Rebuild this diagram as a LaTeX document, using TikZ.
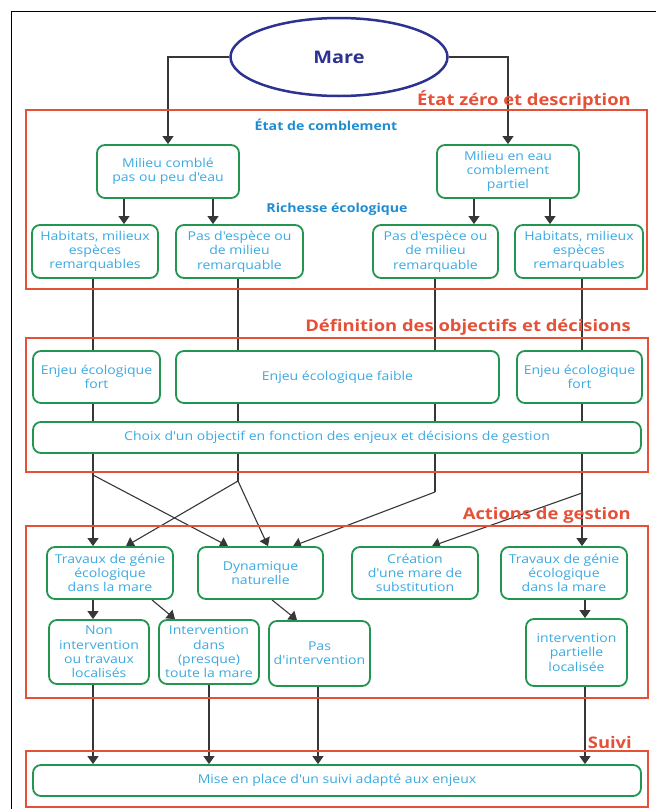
\documentclass[tikz,border=0pt]{standalone}
\usepackage{fontspec}
\setmainfont{Open Sans}[FakeStretch=1.15,Ligatures=TeXOff]
\usetikzlibrary{arrows.meta,shapes.geometric,backgrounds}
\definecolor{gr}{RGB}{34,150,80}
\definecolor{tx}{RGB}{60,170,225}
\definecolor{hd}{RGB}{30,140,210}
\definecolor{rd}{RGB}{230,80,55}
\definecolor{mb}{RGB}{45,50,145}
\definecolor{lnc}{RGB}{55,55,55}
\begin{document}
\begin{tikzpicture}[x=1pt,y=-1pt,
 gbox/.style={draw=gr, line width=1.8pt, rounded corners=8pt, fill=white, inner sep=0pt, align=center, text=tx, font=\fontsize{12.2}{14.3}\selectfont},
 rbox/.style={draw=rd, line width=1.3pt},
 rlab/.style={text=rd, font=\fontsize{16}{19}\selectfont\bfseries, anchor=east, inner sep=0pt},
 hlab/.style={text=hd, font=\fontsize{12.3}{14}\selectfont\bfseries, inner sep=0pt},
 wire/.style={draw=lnc, line width=1.1pt},
 arr/.style={wire, -{Triangle[length=8pt,width=11pt]}}]
\useasboundingbox (0,0) rectangle (656,809);
% outer frame
\draw[black, line width=1pt] (11,809) -- (11,11) -- (656,11);
% red section frames
\draw[rbox] (26,110) rectangle (647,289);
\draw[rbox] (26,338) rectangle (648,472);
\draw[rbox] (26,526) rectangle (648,698);
\draw[rbox] (26,751) rectangle (648,807);
\node[rlab] (l1) at (631,100) {État zéro et description};
\node[rlab] (l2) at (631,327) {Définition des objectifs et décisions};
\node[rlab] (l3) at (631,515) {Actions de gestion};
\node[rlab] (l4) at (632,742) {Suivi};
\node[hlab] (h1) at (326,125) {État de comblement};
\node[hlab] (h2) at (337,209) {Richesse écologique};
% ellipse
\node[ellipse, draw=mb, line width=2.5pt, minimum width=217pt, minimum height=78pt, inner sep=0pt, text=mb, font=\fontsize{17.3}{20}\selectfont\bfseries] (mare) at (339,57) {Mare};
% boxes
\node[gbox, minimum width=142pt, minimum height=53pt] (comble) at (168,171.5) {Milieu comblé\\pas ou peu d'eau};
\node[gbox, minimum width=142pt, minimum height=53pt] (eau) at (508,171.5) {Milieu en eau\\comblement\\partiel};
\node[gbox, minimum width=126pt, minimum height=53pt] (hab1) at (95,251.5) {Habitats, milieux\\espèces\\remarquables};
\node[gbox, minimum width=127pt, minimum height=53pt] (pas1) at (239.5,251.5) {Pas d'espèce ou\\de milieu\\remarquable};
\node[gbox, minimum width=125pt, minimum height=53pt] (pas2) at (435.5,251.5) {Pas d'espèce ou\\de milieu\\remarquable};
\node[gbox, minimum width=128pt, minimum height=53pt] (hab2) at (579,251.5) {Habitats, milieux\\espèces\\remarquables};
\node[gbox, minimum width=127pt, minimum height=52pt] (enj1) at (96.5,377) {Enjeu écologique\\fort};
\node[gbox, minimum width=323pt, minimum height=52pt] (enjf) at (337.5,377) {Enjeu écologique faible};
\node[gbox, minimum width=125pt, minimum height=52pt] (enj2) at (579.5,377) {Enjeu écologique\\fort};
\node[gbox, minimum width=608pt, minimum height=31pt] (choix) at (337,437.5) {Choix d'un objectif en fonction des enjeux et décisions de gestion};
\node[gbox, minimum width=126pt, minimum height=52pt] (trav1) at (110,573) {Travaux de génie\\écologique\\dans la mare};
\node[gbox, minimum width=125pt, minimum height=52pt] (dyn) at (260.5,573) {Dynamique\\naturelle};
\node[gbox, minimum width=126pt, minimum height=52pt] (crea) at (415,573) {Création\\d'une mare de\\substitution};
\node[gbox, minimum width=126pt, minimum height=52pt] (trav2) at (564,573) {Travaux de génie\\écologique\\dans la mare};
\node[gbox, minimum width=100pt, minimum height=64pt] (non) at (99,652) {Non\\intervention\\ou travaux\\localisés};
\node[gbox, minimum width=100pt, minimum height=64pt] (interv) at (209,652) {Intervention\\dans\\(presque)\\toute la mare};
\node[gbox, minimum width=101pt, minimum height=65pt] (pasi) at (319.5,653.5) {Pas\\d'intervention};
\node[gbox, minimum width=101pt, minimum height=67pt] (part) at (576.5,652.5) {intervention\\partielle\\localisée};
\node[gbox, minimum width=608pt, minimum height=31pt] (mise) at (337,780.5) {Mise en place d'un suivi adapté aux enjeux};
% helper coordinates
\coordinate (xa) at (93,0);
\coordinate (xb) at (238,0);
\coordinate (xc) at (435,0);
\coordinate (xd) at (582,0);
\coordinate (xe) at (124,0);
\coordinate (xf) at (213,0);
\coordinate (xg) at (474,0);
\coordinate (xh) at (550,0);
\coordinate (xi) at (126,0);
\coordinate (xj) at (228,0);
\coordinate (xk) at (268,0);
\coordinate (xl) at (293,0);
\coordinate (xm) at (432,0);
\coordinate (xn) at (152,0);
\coordinate (xo) at (175,0);
\coordinate (xp) at (272,0);
\coordinate (xq) at (297,0);
\coordinate (xr) at (585,0);
\coordinate (xs) at (209,0);
\coordinate (xt) at (318,0);
\coordinate (J1) at (93,475);
\coordinate (J2) at (238,481);
\coordinate (J3) at (435,492);
\coordinate (J4) at (582,493);
\begin{pgfonlayer}{background}
\draw[arr] (mare.west) -| (comble.north);
\draw[arr] (mare.east) -| (eau.north);
\draw[arr] (comble.south -| xe) -- (hab1.north -| xe);
\draw[arr] (comble.south -| xf) -- (pas1.north -| xf);
\draw[arr] (eau.south -| xg) -- (pas2.north -| xg);
\draw[arr] (eau.south -| xh) -- (hab2.north -| xh);
\draw[arr] (hab1.south -| xa) -- (trav1.north -| xa);
\draw[arr] (J1) -- (dyn.north -| xj);
\draw[wire] (pas1.south -| xb) -- (J2);
\draw[arr] (J2) -- (trav1.north -| xi);
\draw[arr] (J2) -- (dyn.north -| xk);
\draw[wire] (pas2.south -| xc) -- (J3);
\draw[arr] (J3) -- (dyn.north -| xl);
\draw[arr] (hab2.south -| xd) -- (trav2.north -| xd);
\draw[arr] (J4) -- (crea.north -| xm);
\draw[arr] (trav1.south -| xa) -- (non.north -| xa);
\draw[arr] (trav1.south -| xn) -- (interv.north -| xo);
\draw[arr] (dyn.south -| xp) -- (pasi.north -| xq);
\draw[arr] (trav2.south -| xr) -- (part.north -| xr);
\draw[arr] (non.south -| xa) -- (mise.north -| xa);
\draw[arr] (interv.south -| xs) -- (mise.north -| xs);
\draw[arr] (pasi.south -| xt) -- (mise.north -| xt);
\draw[arr] (part.south -| xr) -- (mise.north -| xr);
\end{pgfonlayer}
\end{tikzpicture}
\end{document}
